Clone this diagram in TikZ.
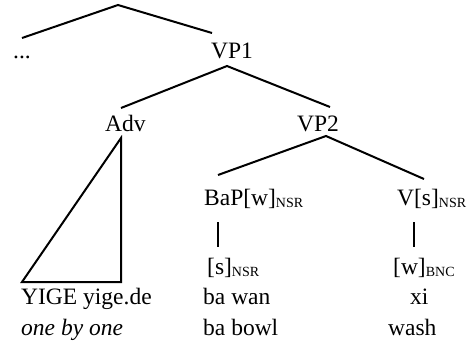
\documentclass[tikz,border=0pt]{standalone}
\usepackage{fontspec}
\setmainfont{Liberation Serif}
\usepackage{tikz}

\newcommand{\featsub}[1]{\raisebox{-2.5pt}{\fontsize{14}{15}\selectfont #1}}

\begin{document}
\begin{tikzpicture}[x=1pt,y=-1pt,
        every node/.style={inner sep=0pt, anchor=base west, font=\fontsize{23.5}{26}\selectfont},
        branch/.style={line width=2pt},
        stem/.style={line width=1.2pt}]
        \useasboundingbox (0,0) rectangle (467,356);
        % labels, placed by their baselines
        \node (dots) at (13,58) {...};
        \node (vp1) at (211,59) {VP1};
        \node (adv) at (105,131) {Adv};
        \node (vp2) at (297,131) {VP2};
        \node (bap) at (204,205) {BaP[w]\featsub{NSR}};
        \node (v) at (397,205) {V[s]\featsub{NSR}};
        \node (s) at (207,274) {[s]\featsub{NSR}};
        \node (w) at (393,274) {[w]\featsub{BNC}};
        \node (yige) at (21,304) {YIGE yige.de};
        \node (bawan) at (203,304) {ba wan};
        \node (xi) at (410,304) {xi};
        \node (gloss) at (21,335) {\itshape one by one};
        \node (babowl) at (203,335) {ba bowl};
        \node (wash) at (388,335) {wash};
        % branches
        \coordinate (top) at (118,5);
        \draw[branch] ([shift={(9,-20)}]dots.base west)--(top)--([shift={(1,-26)}]vp1.base west);
        \draw[branch] ([shift={(16,-23)}]adv.base west)--([shift={(16,7)}]vp1.base west)--([shift={(33,-24)}]vp2.base west);
        \draw[branch] ([shift={(16,7)}]adv.base west)--([shift={(100,-22)}]yige.base west)--([shift={(1,-22)}]yige.base west)--cycle;
        \draw[branch] ([shift={(14,-30)}]bap.base west)--([shift={(29,5)}]vp2.base west)--([shift={(27,-26)}]v.base west);
        \draw[stem] ([shift={(14,17)}]bap.base west)--([shift={(11,-27)}]s.base west);
        \draw[stem] ([shift={(17,17)}]v.base west)--([shift={(21,-27)}]w.base west);
    \end{tikzpicture}
\end{document}
